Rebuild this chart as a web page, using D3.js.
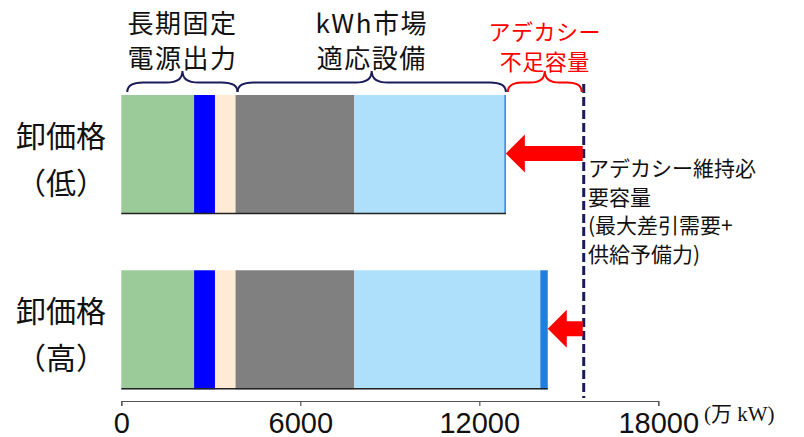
<!DOCTYPE html>
<html>
<head>
<meta charset="utf-8">
<script src="https://cdn.jsdelivr.net/npm/d3@7"></script>
<style>
  html, body { margin: 0; padding: 0; background: #fff; }
  svg { display: block; }
  .jp { font-family: "Noto Sans CJK JP", "Noto Sans", sans-serif; }
</style>
</head>
<body>
<svg id="chart" width="804" height="437"></svg>
<script>
// Supply stack per wholesale price case (万kW)
const rows = ["low", "high"];
const rowTitle = "卸価格";
const rowSub = ["（低）", "（高）"];
const longTermFixed = [2440, 2440];   // 長期固定電源
const pumped = [700, 700];
const otherFixed = [690, 690];
const thermal = [3980, 3980];         // kWh市場適応設備
const marketOther = [5030, 6235];
const marketEdge = [50, 250];
const requiredCapacity = 15500;       // 最大差引需要＋供給予備力
const xTicks = [0, 6000, 12000, 18000];

const segments = [
  { values: longTermFixed, color: "#9acb98" },
  { values: pumped, color: "#0000ff" },
  { values: otherFixed, color: "#ffead5" },
  { values: thermal, color: "#808080" },
  { values: marketOther, color: "#aedffb" },
  { values: marketEdge, color: "#1f7fdf" }
];

const svg = d3.select("#chart");
const x = d3.scaleLinear().domain([0, 18000]).range([121.3, 658.3]);
const y = d3.scaleBand().domain(rows).range([95, 389.3]).paddingInner(0.321).paddingOuter(0);

// Stacked bars
rows.forEach((r, i) => {
  let acc = 0;
  const g = svg.append("g");
  segments.forEach(s => {
    const v = s.values[i];
    g.append("rect")
      .attr("x", x(acc))
      .attr("y", y(r))
      .attr("width", x(acc + v) - x(acc))
      .attr("height", y.bandwidth())
      .attr("fill", s.color);
    acc += v;
  });
  // dark base line under each bar
  g.append("line")
    .attr("x1", x(0)).attr("x2", x(acc))
    .attr("y1", y(r) + y.bandwidth() - 0.5).attr("y2", y(r) + y.bandwidth() - 0.5)
    .attr("stroke", "#222").attr("stroke-width", 1.5);
});

const totals = rows.map((r, i) => segments.reduce((s, seg) => s + seg.values[i], 0));

// Row labels
rows.forEach((r, i) => {
  const cy = y(r) + y.bandwidth() / 2;
  const t = svg.append("text").attr("class", "jp")
    .attr("x", 61).attr("text-anchor", "middle")
    .attr("font-size", 30).attr("fill", "#111");
  t.append("tspan").attr("x", 61).attr("y", cy - 8).text(rowTitle);
  t.append("tspan").attr("x", 61).attr("y", cy + 39).text(rowSub[i]);
});

// Axis
const axis = d3.axisBottom(x).tickValues(xTicks).tickSizeInner(5).tickSizeOuter(5).tickPadding(6)
  .tickFormat(d3.format("d"));
const ax = svg.append("g").attr("transform", "translate(0,401)").call(axis);
ax.select(".domain").attr("stroke", "#555").attr("stroke-width", 1.2);
ax.selectAll(".tick line").attr("stroke", "#555").attr("stroke-width", 1.2);
ax.selectAll(".tick text")
  .attr("font-family", "'Liberation Sans', Arial, sans-serif")
  .attr("font-size", 29).attr("fill", "#111");

svg.append("text")
  .attr("x", 704).attr("y", 421)
  .attr("font-family", "'Liberation Serif', 'Noto Sans CJK JP', serif")
  .attr("font-size", 21).attr("fill", "#111")
  .text("(万 kW)");

// Required capacity dashed line
svg.append("line")
  .attr("x1", x(requiredCapacity)).attr("x2", x(requiredCapacity))
  .attr("y1", 84).attr("y2", 398)
  .attr("stroke", "#1b1b5c").attr("stroke-width", 3)
  .attr("stroke-dasharray", "9,4");

// Shortfall arrows from required capacity to each bar end
rows.forEach((r, i) => {
  const cy = y(r) + y.bandwidth() / 2 - 1;
  const tip = x(totals[i]);
  const tail = x(requiredCapacity) - 1;
  const headLen = 19, headHalf = 19, shaftHalf = 7.5;
  const pts = [
    [tip, cy], [tip + headLen, cy - headHalf], [tip + headLen, cy - shaftHalf],
    [tail, cy - shaftHalf], [tail, cy + shaftHalf], [tip + headLen, cy + shaftHalf],
    [tip + headLen, cy + headHalf]
  ];
  svg.append("path").attr("d", d3.line()(pts) + "Z").attr("fill", "#ff0000");
});

// Curly braces above the top bar
function brace(x1, x2, yb, h) {
  const xm = (x1 + x2) / 2;
  const r = Math.min(16, (x2 - x1) / 5);
  const ym = yb - h * 0.45;
  return `M${x1},${yb} Q${x1},${ym} ${x1 + r},${ym} L${xm - r},${ym} Q${xm},${ym} ${xm},${yb - h}` +
         ` Q${xm},${ym} ${xm + r},${ym} L${x2 - r},${ym} Q${x2},${ym} ${x2},${yb}`;
}
const fixedEnd = longTermFixed[0] + pumped[0] + otherFixed[0];
const braces = [
  { x1: x(0) + 6, x2: x(fixedEnd) + 2, color: "#1b1b5c", lines: ["長期固定", "電源出力"], size: 26, base: [33, 68] },
  { x1: x(fixedEnd) + 2, x2: x(totals[0]), color: "#1b1b5c", lines: ["kWh市場", "適応設備"], size: 26, base: [33, 68] },
  { x1: x(totals[0]) + 2, x2: x(requiredCapacity) - 2, color: "#ff0000", lines: ["アデカシー", "不足容量"], size: 22, base: [40, 70] }
];
braces.forEach(b => {
  svg.append("path").attr("d", brace(b.x1, b.x2, 92, 21))
    .attr("fill", "none").attr("stroke", b.color).attr("stroke-width", 2);
  const cx = (b.x1 + b.x2) / 2;
  b.lines.forEach((ln, k) => {
    svg.append("text").attr("class", "jp")
      .attr("x", cx).attr("y", b.base[k]).attr("text-anchor", "middle")
      .attr("font-size", b.size).attr("letter-spacing", b.color === "#ff0000" ? 0.5 : 1.5)
      .attr("fill", b.color === "#ff0000" ? "#ff0000" : "#111")
      .text(ln);
  });
});

// Note beside the dashed line
const note = ["アデカシー維持必", "要容量", "(最大差引需要+", "供給予備力)"];
note.forEach((ln, k) => {
  svg.append("text").attr("class", "jp")
    .attr("x", 588).attr("y", 176 + k * 28.5)
    .attr("font-size", 21).attr("fill", "#111")
    .text(ln);
});
</script>
</body>
</html>
